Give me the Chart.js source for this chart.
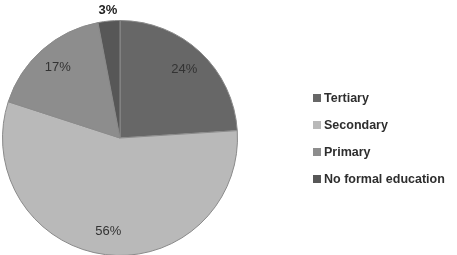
<!DOCTYPE html>
<html lang="en">
<head>
    <meta charset="UTF-8">
    <title>Education level</title>
    <script src="https://cdn.jsdelivr.net/npm/chart.js"></script>
    <style>
        html, body { margin: 0; padding: 0; background: #ffffff; overflow: hidden; }
        #wrap { position: relative; width: 457px; height: 255px; overflow: hidden; }
        #chart-box { position: absolute; left: 0; top: 0; width: 457px; height: 258px; }
        #legend { position: absolute; left: 313px; top: 84px; font-family: "Liberation Sans", Arial, sans-serif;
                  font-size: 12.5px; font-weight: bold; color: #2e2e2e; }
        .item { display: flex; align-items: center; height: 27px; }
        .swatch { width: 8px; height: 8px; margin-right: 3px; }
    </style>
</head>
<body>
    <div id="wrap">
        <div id="chart-box"><canvas id="pie"></canvas></div>
        <div id="legend"></div>
    </div>
    <script>
        const categories = ['Tertiary', 'Secondary', 'Primary', 'No formal education'];
        const shares = [24, 56, 17, 3];
        const sliceColors = ['#676767', '#b9b9b9', '#8d8d8d', '#575757'];

        // legend as plain html, built from the same arrays
        const legend = document.getElementById('legend');
        categories.forEach((name, i) => {
            const row = document.createElement('div');
            row.className = 'item';
            row.innerHTML = `<span class="swatch" style="background:${sliceColors[i]}"></span>${name}`;
            legend.appendChild(row);
        });

        const percentLabels = {
            id: 'percentLabels',
            afterDatasetsDraw(chart) {
                const ctx = chart.ctx;
                const arcs = chart.getDatasetMeta(0).data;
                ctx.save();
                ctx.textAlign = 'center';
                ctx.textBaseline = 'middle';
                arcs.forEach((arc, i) => {
                    const mid = (arc.startAngle + arc.endAngle) / 2;
                    const small = shares[i] < 5;
                    const r = small ? arc.outerRadius + 11 : arc.outerRadius * 0.8;
                    ctx.font = small ? 'bold 13px "Liberation Sans", Arial' : '13px "Liberation Sans", Arial';
                    ctx.fillStyle = small ? '#1e1e1e' : '#333333';
                    ctx.fillText(shares[i] + '%', arc.x + Math.cos(mid) * r, arc.y + Math.sin(mid) * r);
                });
                ctx.restore();
            }
        };

        new Chart(document.getElementById('pie'), {
            type: 'pie',
            data: {
                labels: categories,
                datasets: [{
                    data: shares,
                    backgroundColor: sliceColors,
                    borderColor: '#8a8a8a',
                    borderWidth: 1
                }]
            },
            options: {
                responsive: true,
                maintainAspectRatio: false,
                animation: false,
                layout: { padding: { top: 20, bottom: 2, left: 2, right: 219 } },
                plugins: {
                    legend: { display: false },
                    tooltip: { enabled: false }
                }
            },
            plugins: [percentLabels]
        });
    </script>
</body>
</html>
